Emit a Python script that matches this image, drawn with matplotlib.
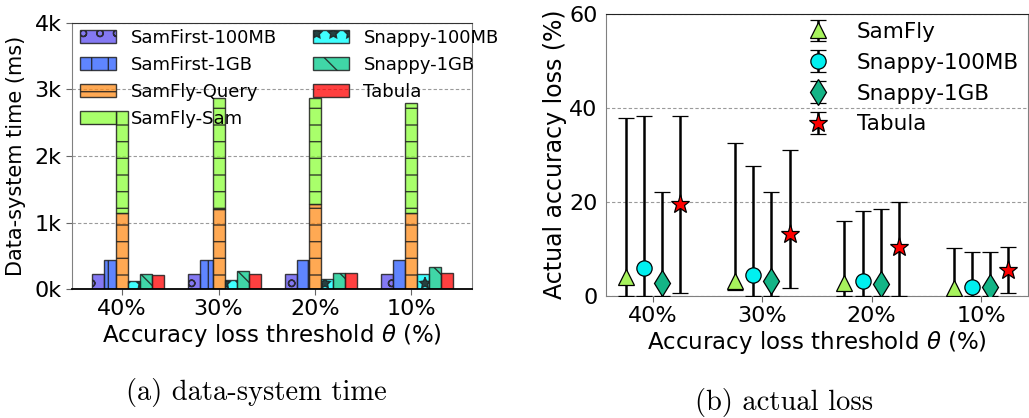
import numpy as np
import matplotlib
matplotlib.use("Agg")
import matplotlib.pyplot as plt
from matplotlib.ticker import FuncFormatter

# ---- data -----------------------------------------------------------------
thresholds = ["40%", "30%", "20%", "10%"]

# (a) data-system time, ms
samfirst_100mb = [230, 230, 230, 230]
samfirst_1gb = [440, 440, 440, 440]
samfly_query = [1150, 1200, 1280, 1150]
samfly_sam = [1520, 1670, 1590, 1650]
snappy_100mb = [125, 130, 150, 220]
snappy_1gb = [230, 265, 245, 330]
tabula_time = [210, 230, 235, 240]

# (b) actual accuracy loss, % (value, min, max)
samfly_loss = [4.0, 3.2, 2.8, 1.6]
samfly_min = [0.0, 1.3, 0.0, 0.0]
samfly_max = [37.8, 32.5, 15.9, 10.1]
snappy100_loss = [5.8, 4.4, 3.1, 1.9]
snappy100_min = [0.0, 0.0, 0.0, 0.0]
snappy100_max = [38.3, 27.5, 18.0, 9.4]
snappy1g_loss = [2.8, 3.2, 2.4, 1.8]
snappy1g_min = [0.0, 0.0, 0.0, 0.0]
snappy1g_max = [22.0, 22.0, 18.4, 9.4]
tabula_loss = [19.5, 13.1, 10.4, 5.5]
tabula_min = [0.5, 1.6, 0.0, 0.6]
tabula_max = [38.3, 31.0, 20.0, 10.4]

plt.rcParams["font.family"] = ["DejaVu Sans"]
plt.rcParams["hatch.linewidth"] = 1.0

fig = plt.figure(figsize=(10.29, 4.18), dpi=100)
ax1 = fig.add_axes([0.070, 0.3086, 0.3887, 0.6364])
ax2 = fig.add_axes([0.589, 0.2926, 0.410, 0.6744])

x = np.arange(len(thresholds))
w = 0.125
edge = (0.12, 0.12, 0.12, 0.85)


def rgba(c, a=0.75):
    r, g, b, _ = matplotlib.colors.to_rgba(c)
    return (r, g, b, a)


bar_specs = [
    ("SamFirst-100MB", samfirst_100mb, None, "#5b4cf0", "o", -2),
    ("SamFirst-1GB", samfirst_1gb, None, "#2a5cff", "|", -1),
    ("SamFly-Query", samfly_query, None, "#ff8c1a", "-", 0),
    ("SamFly-Sam", samfly_sam, samfly_query, "#8cff3a", "-", 0),
    ("Snappy-100MB", snappy_100mb, None, "#00ffff", "*", 1),
    ("Snappy-1GB", snappy_1gb, None, "#00c98a", "\\", 2),
    ("Tabula", tabula_time, None, "#ff0000", None, 3),
]

ax1.set_axisbelow(True)
ax1.yaxis.grid(True, linestyle=(0, (3, 2)), color="#9a9a9a", linewidth=0.8)
handles = {}
for label, vals, bottom, color, hatch, off in bar_specs:
    h = ax1.bar(x + off * w, vals, width=w, bottom=bottom,
                facecolor=rgba(color), edgecolor=edge, linewidth=1.0,
                hatch=hatch, label=label)
    handles[label] = h

ax1.set_xlim(-0.52, 3.63)
ax1.set_ylim(0, 4000)
ax1.set_yticks([0, 1000, 2000, 3000, 4000])
ax1.yaxis.set_major_formatter(FuncFormatter(lambda v, p: f"{int(v / 1000)}k"))
ax1.set_xticks(x)
ax1.set_xticklabels(thresholds)
ax1.tick_params(labelsize=16, length=4, color="#666666")
ax1.set_xlabel(r"Accuracy loss threshold $\theta$ (%)", fontsize=16.5, labelpad=2)
ax1.set_ylabel("Data-system time (ms)", fontsize=15, labelpad=6)
for s in ("left", "right"):
    ax1.spines[s].set_color("#808080")
ax1.spines["top"].set_color("#333333")
ax1.spines["bottom"].set_color("black")
ax1.spines["bottom"].set_linewidth(1.3)

order = ["SamFirst-100MB", "SamFirst-1GB", "SamFly-Query", "SamFly-Sam",
         "Snappy-100MB", "Snappy-1GB", "Tabula"]
ax1.legend([handles[k] for k in order], order, ncol=2, frameon=False,
           fontsize=13, loc="upper left", bbox_to_anchor=(0.002, 1.0045),
           borderaxespad=0)

# (b) actual accuracy loss with min/max range bars
ax2.set_axisbelow(True)
ax2.yaxis.grid(True, linestyle=(0, (3, 2)), color="#9a9a9a", linewidth=0.8)
dx = 1 / 6
loss_specs = [
    ("SamFly", samfly_loss, samfly_min, samfly_max, "^", "#a6f25c", 11, -1.5),
    ("Snappy-100MB", snappy100_loss, snappy100_min, snappy100_max, "o", "#00f0f0", 11, -0.5),
    ("Snappy-1GB", snappy1g_loss, snappy1g_min, snappy1g_max, "d", "#14b486", 13, 0.5),
    ("Tabula", tabula_loss, tabula_min, tabula_max, "*", "#ff0000", 14, 1.5),
]
for label, vals, lo, hi, mk, col, ms, off in loss_specs:
    v = np.array(vals)
    yerr = [v - np.array(lo), np.array(hi) - v]
    ax2.errorbar(x + off * dx, v, yerr=yerr, fmt=mk, color=col,
                 markerfacecolor=col, markeredgecolor="black",
                 markeredgewidth=0.9, markersize=ms, ecolor="black",
                 elinewidth=1.8, capsize=5.5, capthick=3.0, label=label,
                 zorder=3)

ax2.set_xlim(-0.43, 3.43)
ax2.set_ylim(0, 60)
ax2.set_yticks([0, 20, 40, 60])
ax2.set_xticks(x)
ax2.set_xticklabels(thresholds)
ax2.tick_params(axis="x", labelsize=16, length=4, color="#666666")
ax2.tick_params(axis="y", labelsize=16, length=0, pad=6)
ax2.set_xlabel(r"Accuracy loss threshold $\theta$ (%)", fontsize=16.5, labelpad=2)
ax2.set_ylabel("Actual accuracy loss (%)", fontsize=17, labelpad=2)
for s in ("left", "right", "bottom"):
    ax2.spines[s].set_color("#808080")
ax2.spines["top"].set_color("#222222")
ax2.legend(frameon=False, fontsize=15.5, loc="upper left",
           bbox_to_anchor=(0.431, 1.0015), borderaxespad=0)

fig.text(0.2495, 0.060, "(a) data-system time", family="cmr10", fontsize=20.5,
         ha="center", va="center")
fig.text(0.762, 0.036, "(b) actual loss", family="cmr10", fontsize=20.5,
         ha="center", va="center")

fig.savefig("out.png", dpi=100)
